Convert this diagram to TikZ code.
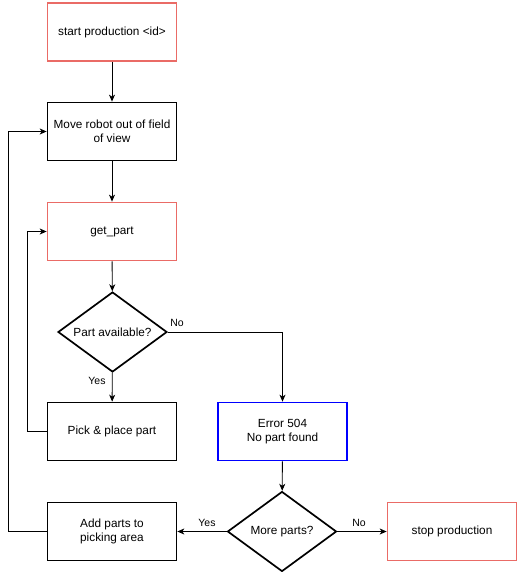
\documentclass[tikz,border=0pt]{standalone}
\usepackage{fontspec}
\setmainfont{Liberation Sans}
\usetikzlibrary{shapes.geometric,arrows.meta}
\definecolor{redline}{HTML}{EA6B66}
\definecolor{blueline}{HTML}{0000FF}
\begin{document}
\begin{tikzpicture}[x=1pt,y=-1pt,
  box/.style={draw=black,line width=1.7pt,minimum width=129pt,minimum height=58pt,inner sep=0pt,align=center,font=\fontsize{11.8}{13.8}\selectfont},
  redbox/.style={box,draw=redline},
  bluebox/.style={box,draw=blueline},
  decision/.style={diamond,draw=black,line width=1.7pt,minimum width=109pt,minimum height=80pt,inner sep=0pt,aspect=1.36,align=center,font=\fontsize{11.8}{13.8}\selectfont},
  conn/.style={draw=black,line width=0.9pt,-{Stealth[length=7pt,width=6pt,inset=2pt]}},
  lbl/.style={font=\fontsize{10.5}{12}\selectfont,inner sep=0pt}]
\useasboundingbox (0,0) rectangle (519,572);
\node[redbox] (start) at (112,32) {start production <id>};
\node[box] (move) at (112,131.5) {Move robot out of field\\of view};
\node[redbox] (get) at (112,231.5) {get\_part};
\node[decision] (avail) at (112.5,332) {Part available?};
\node[box] (pick) at (112,431.5) {Pick \& place part};
\node[bluebox] (err) at (282.5,431.5) {Error 504\\No part found};
\node[decision] (more) at (282,531.5) {More parts?};
\node[redbox] (stop) at (452,531.5) {stop production};
\node[box] (add) at (112,531.5) {Add parts to\\picking area};
\coordinate (c1) at (27,431.5);
\coordinate (c2) at (27,231.5);
\coordinate (c3) at (8,531.5);
\coordinate (c4) at (8,131.5);
\coordinate (c5) at (282.5,332);
\path[conn] (start) -- (move);
\path[conn] (move) -- (get);
\path[conn] (get) -- (avail);
\path[conn] (avail) -- (pick);
\path[conn] (avail.east) -- (c5) -- (err.north);
\path[conn] (pick.west) -- (c1) -- (c2) -- (get.west);
\path[conn] (err) -- (more);
\path[conn] (more.west) -- (add.east);
\path[conn] (more.east) -- (stop.west);
\path[conn] (add.west) -- (c3) -- (c4) -- (move.west);
\node[lbl] (l1) at (177,323) {No};
\node[lbl] (l2) at (97,381) {Yes};
\node[lbl] (l3) at (207,522.5) {Yes};
\node[lbl] (l4) at (359,522.5) {No};
\end{tikzpicture}
\end{document}
